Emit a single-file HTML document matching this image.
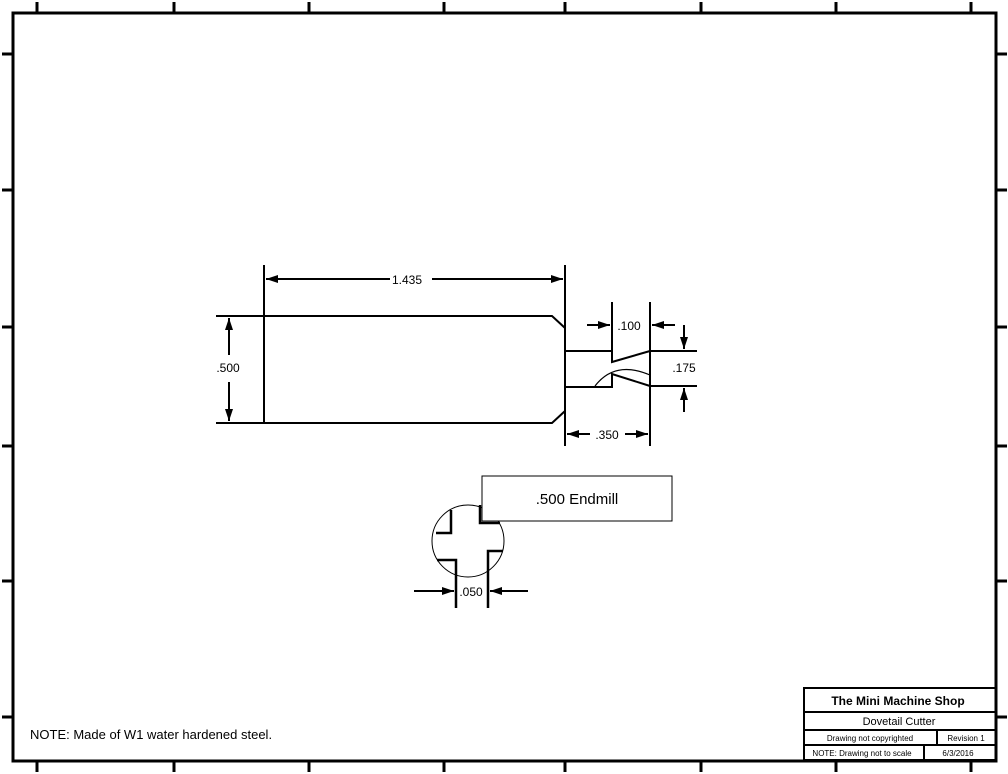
<!DOCTYPE html><html><head><style>body{margin:0;background:#fff}svg{display:block}text{font-family:"Liberation Sans",Arial,sans-serif;fill:#000}</style></head><body>
<svg width="1008" height="774" viewBox="0 0 1008 774" xmlns="http://www.w3.org/2000/svg">
<defs><marker id="a" markerWidth="12" markerHeight="8" refX="12" refY="4" orient="auto" markerUnits="userSpaceOnUse"><path d="M0,0 L12,4 L0,8z" fill="#000"/></marker></defs>
<rect x="13" y="13" width="983" height="748" fill="none" stroke="#000" stroke-width="3"/>
<g stroke="#000" stroke-width="3">
<path d="M37,2V13M174,2V13M309,2V13M444,2V13M565,2V13M701,2V13M836,2V13M971,2V13"/>
<path d="M37,761V772M174,761V772M309,761V772M444,761V772M565,761V772M701,761V772M836,761V772M971,761V772"/>
<path d="M2,54H13M2,190H13M2,327H13M2,446H13M2,581H13M2,717H13"/>
<path d="M996,54H1007M996,190H1007M996,327H1007M996,446H1007M996,581H1007M996,717H1007"/>
</g>
<g fill="none" stroke="#000" stroke-width="2">
<path d="M216,316H552L565,328V351H612"/>
<path d="M216,423H552L565,411V387H612V374L650,386"/>
<path d="M612,302V362L650,351"/>
<path d="M650,302V446M565,265V446M264,265V423"/>
<path d="M650,351H697M650,386H697"/>
</g>
<path d="M595,386 Q615,360 650,375" fill="none" stroke="#000" stroke-width="1.2"/>
<g stroke="#000" stroke-width="2" marker-end="url(#a)">
<line x1="390" y1="279" x2="266" y2="279"/><line x1="432" y1="279" x2="563" y2="279"/>
<line x1="229" y1="355" x2="229" y2="318"/><line x1="229" y1="382" x2="229" y2="421"/>
<line x1="587" y1="325" x2="610" y2="325"/><line x1="675" y1="325" x2="652" y2="325"/>
<line x1="684" y1="325" x2="684" y2="349"/><line x1="684" y1="412" x2="684" y2="388"/>
<line x1="590" y1="434" x2="567" y2="434"/><line x1="625" y1="434" x2="648" y2="434"/>
<line x1="414" y1="591" x2="454" y2="591"/><line x1="528" y1="591" x2="490" y2="591"/>
</g>
<g font-size="12" text-anchor="middle">
<text x="407" y="284">1.435</text><text x="228" y="372">.500</text>
<text x="629" y="330">.100</text><text x="684" y="372">.175</text>
<text x="607" y="439">.350</text><text x="471" y="596">.050</text>
</g>
<circle cx="468" cy="541" r="36" fill="none" stroke="#000" stroke-width="1"/>
<g fill="none" stroke="#000" stroke-width="2.5">
<path d="M436,533H451V510"/><path d="M480,505V523H500"/>
<path d="M437,560H456V608"/><path d="M503,551H488V608"/>
</g>
<rect x="482" y="476" width="190" height="45" fill="#fff" stroke="#000" stroke-width="1"/>
<text x="577" y="504" font-size="15" text-anchor="middle">.500 Endmill</text>
<text x="30" y="739" font-size="13">NOTE: Made of W1 water hardened steel.</text>
<g fill="none" stroke="#000" stroke-width="2">
<rect x="804" y="688" width="192" height="72"/>
<path d="M804,712H996M804,730H996M804,745H996M937,730V745M924,745V760"/>
</g>
<text x="898" y="705" font-size="12" font-weight="bold" text-anchor="middle">The Mini Machine Shop</text>
<text x="899" y="725" font-size="11" text-anchor="middle">Dovetail Cutter</text>
<text x="870" y="741" font-size="8" text-anchor="middle">Drawing not copyrighted</text>
<text x="966" y="741" font-size="8" text-anchor="middle">Revision 1</text>
<text x="862" y="756" font-size="8" text-anchor="middle">NOTE: Drawing not to scale</text>
<text x="958" y="756" font-size="8" text-anchor="middle">6/3/2016</text>
</svg></body></html>
